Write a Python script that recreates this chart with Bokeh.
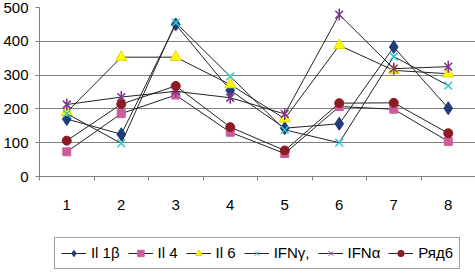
import math
from bokeh.plotting import figure
from bokeh.layouts import column
from bokeh.models import FixedTicker, Legend, LegendItem, Range1d
from bokeh.embed import file_html
from bokeh.resources import INLINE

categories = [1, 2, 3, 4, 5, 6, 7, 8]
tick_labels = ["1", "2", "3", "4", "5", "6", "7", "8"]
il1b = [170, 125, 450, 255, 143, 156, 383, 202]
il4 = [73, 186, 241, 131, 68, 207, 199, 104]
il6 = [190, 353, 353, 272, 171, 388, 314, 304]
ifng = [186, 98, 455, 296, 138, 100, 355, 269]
ifna = [213, 235, 252, 233, 185, 479, 319, 325]
row6 = [106, 214, 268, 146, 77, 217, 218, 128]
names = ["Il 1β", "Il 4", "Il 6", "IFNγ,", "IFNα", "Ряд6"]

p = figure(width=475, height=232, output_backend="svg", toolbar_location=None,
           min_border_left=35, min_border_right=0, min_border_top=7, min_border_bottom=56,
           x_range=Range1d(0.5, 8.5), y_range=Range1d(0, 500))
p.outline_line_color = None
p.background_fill_color = "white"

FONT = "Liberation Sans"
xa = p.xaxis[0]
xa.ticker = FixedTicker(ticks=categories, minor_ticks=[c - 0.5 for c in categories] + [8.5])
xa.major_label_overrides = {c: t for c, t in zip(categories, tick_labels)}
xa.major_tick_out = 0
xa.major_tick_in = 0
xa.minor_tick_out = 4
xa.minor_tick_in = 0
xa.minor_tick_line_color = "#808080"
xa.axis_line_color = "#808080"
xa.major_label_standoff = 19
xa.major_label_text_font = FONT
xa.major_label_text_font_size = "15px"
xa.major_label_text_color = "black"

ya = p.yaxis[0]
ya.ticker = FixedTicker(ticks=[0, 100, 200, 300, 400, 500])
ya.major_tick_out = 4
ya.major_tick_in = 0
ya.minor_tick_line_color = None
ya.axis_line_color = "#808080"
ya.major_tick_line_color = "#808080"
ya.major_label_standoff = 7
ya.major_label_text_font = FONT
ya.major_label_text_font_size = "15px"
ya.major_label_text_color = "black"

p.xgrid.grid_line_color = None
p.ygrid.ticker = FixedTicker(ticks=[100, 200, 300, 400, 500])
p.ygrid.grid_line_color = "#808080"
p.ygrid.grid_line_width = 1

series = [il1b, il4, il6, ifng, ifna, row6]
styles = [
    [dict(marker="diamond", size=13, fill_color="#1f3d7a", line_color="#1f3d7a")],
    [dict(marker="square", size=8, fill_color="#cc5c9c", line_color="#cc5c9c")],
    [dict(marker="triangle", size=11, fill_color="#ffff00", line_color="#e0d800")],
    [dict(marker="x", size=11, line_color="#33c4cc", line_width=1.5)],
    [dict(marker="x", size=11, line_color="#80308f", line_width=1.5),
     dict(marker="dash", size=12, angle=math.pi / 2, line_color="#80308f", line_width=1.5)],
    [dict(marker="circle", size=9, fill_color="#8b1c24", line_color="#8b1c24")],
]

# legend strip below the chart (same glyph styles, smaller; data lies outside its range)
lg = figure(width=475, height=41, output_backend="svg", toolbar_location=None,
            min_border_left=35, min_border_right=0, min_border_top=0, min_border_bottom=0,
            x_axis_location=None, y_axis_location=None,
            x_range=Range1d(100, 101), y_range=Range1d(0, 500))
lg.outline_line_color = None
lg.xgrid.visible = False
lg.ygrid.visible = False

items = []
for name, vals, sts in zip(names, series, styles):
    p.line(categories, vals, line_color="#222222", line_width=1)
    for st in sts:
        p.scatter(categories, vals, **st)
    rs = [lg.line(categories, vals, line_color="#222222", line_width=1)]
    for st in sts:
        small = dict(st)
        small["size"] = st["size"] * 0.6
        small["line_width"] = 1
        rs.append(lg.scatter(categories, vals, **small))
    items.append(LegendItem(label=name, renderers=rs))

legend = Legend(items=items, orientation="horizontal", location="center",
                glyph_width=25, glyph_height=16, label_standoff=5, spacing=8,
                padding=6, margin=0,
                label_text_font=FONT, label_text_font_size="15px",
                label_text_color="black", label_height=18,
                border_line_color="#404040", border_line_width=1,
                background_fill_color="white", background_fill_alpha=1.0)
lg.add_layout(legend, "center")

layout = column(p, lg, spacing=0)
open("out.html", "w").write(file_html(layout, INLINE))
